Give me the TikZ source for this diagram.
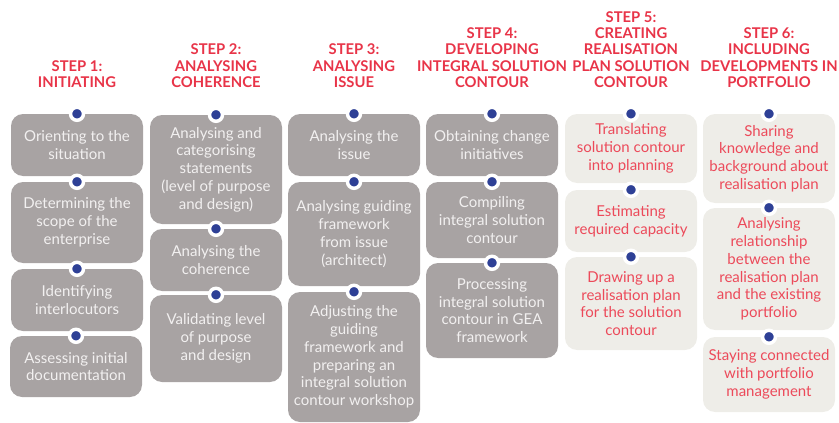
\documentclass[tikz,border=0pt]{standalone}
\usepackage{fontspec}
\setmainfont{Lato}
\usetikzlibrary{positioning}
\definecolor{stepred}{RGB}{232,52,72}
\definecolor{boxgray}{RGB}{168,163,163}
\definecolor{boxbeige}{RGB}{238,237,232}
\definecolor{dotblue}{RGB}{46,64,150}
\definecolor{textred}{RGB}{236,74,90}
\definecolor{boxwhite}{RGB}{242,240,240}

\tikzset{
	steptitle/.style={text=stepred, font=\fontsize{14.8}{16.4}\selectfont\bfseries, align=center, anchor=south, inner sep=0pt},
	taskbox/.style={rounded corners=12, minimum width=132, align=center, inner sep=2pt, font=\fontsize{15}{17.8}\selectfont},
	graybox/.style={taskbox, fill=boxgray, text=boxwhite},
	beigebox/.style={taskbox, fill=boxbeige, text=textred},
	stepdot/.style={circle, fill=dotblue, draw=white, line width=3.5, minimum size=13, inner sep=0pt},
}

\begin{document}
\begin{tikzpicture}[x=1pt,y=1pt,yscale=-1,xscale=1]
	\useasboundingbox (0,0) rectangle (839,423);

	% step titles
	\node [steptitle] (t1) at (77,88) {STEP 1:\\INITIATING};
	\node [steptitle] (t2) at (216,88) {STEP 2:\\ANALYSING\\COHERENCE};
	\node [steptitle] (t3) at (354,88) {STEP 3:\\ANALYSING\\ISSUE};
	\node [steptitle] (t4) at (492,88) {STEP 4:\\DEVELOPING\\INTEGRAL SOLUTION\\CONTOUR};
	\node [steptitle] (t5) at (631,88) {STEP 5:\\CREATING\\REALISATION\\PLAN SOLUTION\\CONTOUR};
	\node [steptitle] (t6) at (769,88) {STEP 6:\\INCLUDING\\DEVELOPMENTS IN\\PORTFOLIO};

	% step 1
	\node [graybox, minimum height=62] (c1a) at (77,145) {Orienting to the\\situation};
	\node [graybox, minimum height=81] (c1b) at (77,222.5) {Determining the\\scope of the\\enterprise};
	\node [graybox, minimum height=62] (c1c) at (77,300) {Identifying\\interlocutors};
	\node [graybox, minimum height=61] (c1d) at (76,366.5) {Assessing initial\\documentation};

	% step 2
	\node [graybox, minimum height=109] (c2a) at (216,169.5) {Analysing and\\categorising\\statements\\(level of purpose\\and design)};
	\node [graybox, minimum height=62] (c2b) at (216,260) {Analysing the\\coherence};
	\node [graybox, minimum height=87] (c2c) at (216,338.5) {Validating level\\of purpose\\and design};

	% step 3
	\node [graybox, minimum height=62] (c3a) at (354,145) {Analysing the\\issue};
	\node [graybox, minimum height=104] (c3b) at (354,234) {Analysing guiding\\framework\\from issue\\(architect)};
	\node [graybox, minimum height=130] (c3c) at (354,357) {Adjusting the\\guiding\\framework and\\preparing an\\integral solution\\contour workshop};

	% step 4
	\node [graybox, minimum height=62] (c4a) at (492,145) {Obtaining change\\initiatives};
	\node [graybox, minimum height=76] (c4b) at (492,220) {Compiling\\integral solution\\contour};
	\node [graybox, minimum height=95] (c4c) at (492,310.5) {Processing\\integral solution\\contour in GEA\\framework};

	% step 5
	\node [beigebox, minimum height=69] (c5a) at (631,148.5) {Translating\\solution contour\\into planning};
	\node [beigebox, minimum height=62] (c5b) at (631,221) {Estimating\\required capacity};
	\node [beigebox, minimum height=93] (c5c) at (631,303.5) {Drawing up a\\realisation plan\\for the solution\\contour};

	% step 6
	\node [beigebox, minimum height=89] (c6a) at (769,158.5) {Sharing\\knowledge and\\background about\\realisation plan};
	\node [beigebox, minimum height=122] (c6b) at (769,269) {Analysing\\relationship\\between the\\realisation plan\\and the existing\\portfolio};
	\node [beigebox, minimum height=75] (c6c) at (769,374.5) {Staying connected\\with portfolio\\management};

	% dots on top of the boxes
	\foreach \b in {c1a,c1b,c1c,c1d,c2a,c2b,c2c,c3a,c3b,c3c,c4a,c4b,c4c,c5a,c5b,c5c,c6a,c6b,c6c}
		\node [stepdot] (dot-\b) at (\b.north) {};
\end{tikzpicture}
\end{document}
